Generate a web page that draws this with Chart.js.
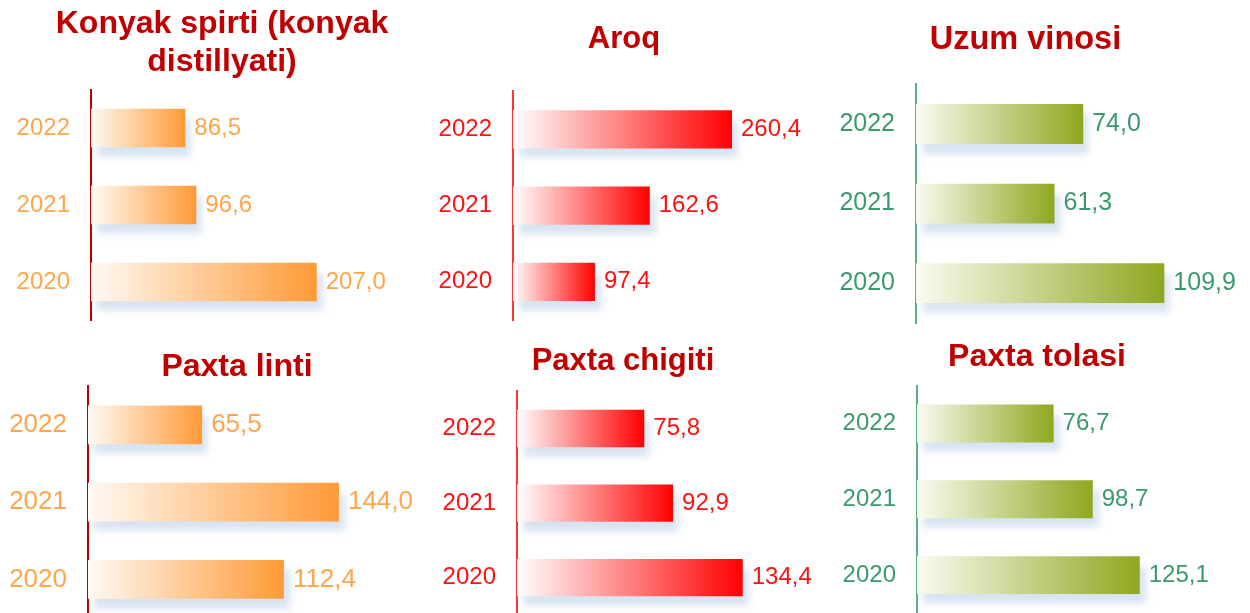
<!DOCTYPE html>
<html>
<head>
<meta charset="utf-8">
<script src="https://cdn.jsdelivr.net/npm/chart.js@4.4.1/dist/chart.umd.min.js"></script>
<style>
  html, body { margin: 0; padding: 0; background: #fff; overflow: hidden; }
  #wrap { position: relative; width: 1250px; height: 613px; }
  canvas { position: absolute; }
</style>
</head>
<body>
<div id="wrap"></div>
<script>
// data
const years = ['2022', '2021', '2020'];
const konyakValues = [86.5, 96.6, 207.0];
const aroqValues = [260.4, 162.6, 97.4];
const uzumValues = [74.0, 61.3, 109.9];
const lintValues = [65.5, 144.0, 112.4];
const chigitValues = [75.8, 92.9, 134.4];
const tolaValues = [76.7, 98.7, 125.1];
const panelTitles = [
    ['Konyak spirti (konyak', 'distillyati)'],
    'Aroq',
    'Uzum vinosi',
    'Paxta linti',
    'Paxta chigiti',
    'Paxta tolasi'
];

const FONT = "'Liberation Sans', Arial, sans-serif";

const themes = {
    orange: { text: '#ffa54a', from: '#fffaf4', to: '#ff9a36', axis: '#c00000' },
    red: { text: '#ff1010', from: '#ffffff', to: '#ff0000', axis: '#ff3333' },
    green: { text: '#3b9a6b', from: '#fafbf1', to: '#8fa71f', axis: '#5aaf80' }
};

// layout of the six small charts
const panels = [
    { values: konyakValues, theme: 'orange', left: 0, top: 0, w: 440, h: 325, padL: 4, padR: 0, padB: 4.5, ts: 32, tTop: 4.8, tBot: 7.9, axisW: 87, xMax: 320, fs: 24 },
    { values: aroqValues, theme: 'red', left: 420, top: 0, w: 400, h: 325, padL: 8, padR: 0, padB: 5, ts: 31, tTop: 21, tBot: 33, axisW: 85, xMax: 365, fs: 24 },
    { values: uzumValues, theme: 'green', left: 820, top: 0, w: 430, h: 325, padL: 0, padR: 19, padB: 2, ts: 32.5, tTop: 20.5, tBot: 24.7, axisW: 96, xMax: 139.4, fs: 25 },
    { values: lintValues, theme: 'orange', left: 0, top: 330, w: 474, h: 290, padL: 0, padR: 0, padB: 2, ts: 32, tTop: 17.8, tBot: 0, axisW: 88, xMax: 221.5, fs: 26 },
    { values: chigitValues, theme: 'red', left: 420, top: 330, w: 400, h: 290, padL: 6, padR: 0, padB: 5, ts: 31, tTop: 13, tBot: 11, axisW: 91, xMax: 180.4, fs: 24 },
    { values: tolaValues, theme: 'green', left: 820, top: 330, w: 430, h: 290, padL: 4, padR: 0, padB: 7, ts: 32, tTop: 8.3, tBot: 8.9, axisW: 93, xMax: 187, fs: 24 }
];

const barShadow = {
    id: 'barShadow',
    beforeDatasetsDraw(chart) {
        const c = chart.ctx;
        c.save();
        c.shadowColor = 'rgba(178, 200, 228, 0.5)';
        c.shadowBlur = 7;
        c.shadowOffsetX = 6;
        c.shadowOffsetY = 10;
    },
    afterDatasetsDraw(chart) {
        chart.ctx.restore();
    }
};

const valueLabels = {
    id: 'valueLabels',
    afterDraw(chart, args, opts) {
        const c = chart.ctx;
        const meta = chart.getDatasetMeta(0);
        const data = chart.data.datasets[0].data;
        c.save();
        c.font = opts.size + 'px ' + FONT;
        c.fillStyle = opts.color;
        c.textAlign = 'left';
        c.textBaseline = 'middle';
        meta.data.forEach((bar, i) => {
            c.fillText(data[i].toFixed(1).replace('.', ','), bar.x + 9, bar.y);
        });
        c.restore();
    }
};

const wrap = document.getElementById('wrap');

panels.forEach((p, idx) => {
    const th = themes[p.theme];
    const cv = document.createElement('canvas');
    cv.width = p.w;
    cv.height = p.h;
    cv.style.left = p.left + 'px';
    cv.style.top = p.top + 'px';
    wrap.appendChild(cv);

    new Chart(cv.getContext('2d'), {
        type: 'bar',
        data: {
            labels: years,
            datasets: [{
                data: p.values,
                barPercentage: 0.5,
                categoryPercentage: 1,
                borderWidth: 0,
                backgroundColor: function (ctx) {
                    const chart = ctx.chart;
                    if (!chart.chartArea || !chart.scales.x) return th.to;
                    const xs = chart.scales.x;
                    const x0 = xs.getPixelForValue(0);
                    const x1 = xs.getPixelForValue(ctx.raw);
                    const g = chart.ctx.createLinearGradient(x0, 0, x1, 0);
                    g.addColorStop(0, th.from);
                    g.addColorStop(1, th.to);
                    return g;
                }
            }]
        },
        options: {
            indexAxis: 'y',
            responsive: false,
            devicePixelRatio: 1,
            animation: false,
            layout: { padding: { left: p.padL, right: p.padR, top: 0, bottom: p.padB } },
            plugins: {
                legend: { display: false },
                tooltip: { enabled: false },
                title: {
                    display: true,
                    text: panelTitles[idx],
                    color: '#c00000',
                    font: { family: FONT, size: p.ts, weight: 'bold', lineHeight: 1.2 },
                    padding: { top: p.tTop, bottom: p.tBot }
                },
                valueLabels: { color: th.text, size: p.fs }
            },
            scales: {
                x: { display: false, min: 0, max: p.xMax },
                y: {
                    // keep the axis box exactly where the picture has it
                    afterFit: s => {
                        s.width = p.axisW;
                        s.paddingTop = 0;
                        s.paddingBottom = 0;
                    },
                    grid: { display: false, drawTicks: false },
                    border: { display: true, color: th.axis, width: 2 },
                    ticks: {
                        color: th.text,
                        padding: 21,
                        font: { family: FONT, size: p.fs }
                    }
                }
            }
        },
        plugins: [barShadow, valueLabels]
    });
});
</script>
</body>
</html>
